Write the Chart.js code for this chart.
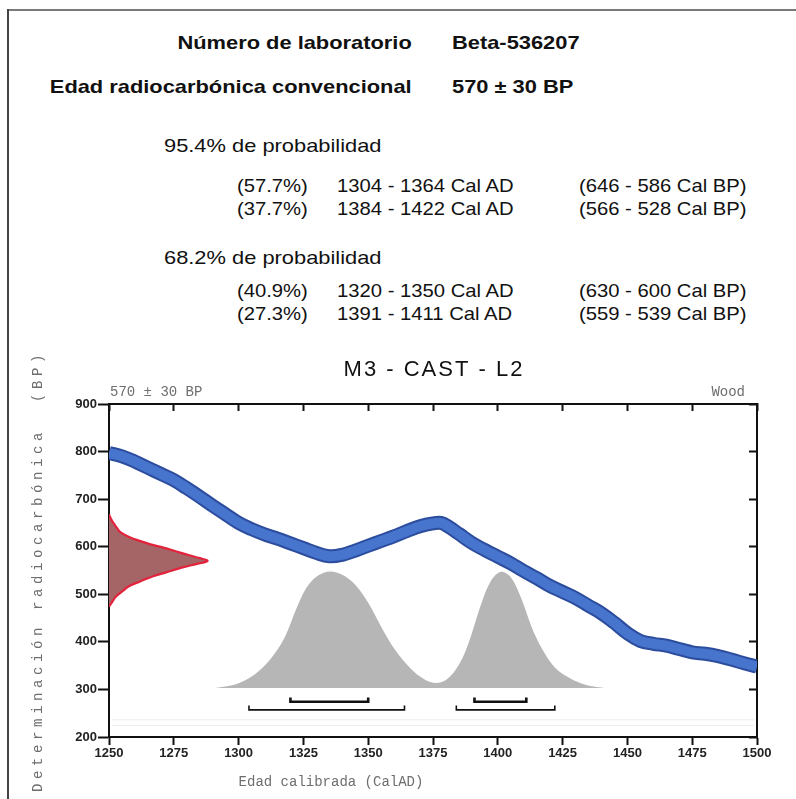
<!DOCTYPE html>
<html><head><meta charset="utf-8">
<script src="https://cdn.jsdelivr.net/npm/chart.js@4.4.0/dist/chart.umd.min.js"></script>
<style>
html,body{margin:0;padding:0;background:#fff;}
body{width:796px;height:799px;position:relative;overflow:hidden;font-family:"Liberation Sans",Arial,sans-serif;color:#111;}
#frameTop{position:absolute;left:8px;top:9px;width:788px;height:2px;background:#7a7a7a;}
#frameLeft{position:absolute;left:7px;top:9px;width:2px;height:790px;background:#444;}
.t{position:absolute;white-space:nowrap;font-size:19px;line-height:22px;transform:scaleX(1.15);transform-origin:left center;}
.n{transform:scaleX(1.065);}
.b{font-weight:bold;}
.r{transform-origin:right center;text-align:right;}
#wrap{position:absolute;left:0;top:0;width:796px;height:799px;}
</style></head>
<body>
<div id="frameTop"></div><div id="frameLeft"></div>
<div id="header"></div>
<div id="wrap"><canvas id="c" width="796" height="799"></canvas></div>
<script>
// ---------- data ----------
const labNumber = "Beta-536207";
const convAge = "570 ± 30 BP";
const sampleName = "M3 - CAST - L2";
const material = "Wood";

const prob95Label = "95.4% de probabilidad";
const pct95 = ["(57.7%)", "(37.7%)"];
const ranges95AD = [[1304, 1364], [1384, 1422]];
const ranges95BP = [[646, 586], [566, 528]];

const prob68Label = "68.2% de probabilidad";
const pct68 = ["(40.9%)", "(27.3%)"];
const ranges68AD = [[1320, 1350], [1391, 1411]];
const ranges68BP = [[630, 600], [559, 539]];

// calibration curve (cal AD -> radiocarbon BP)
const curveYears = [1250,1255,1260,1265,1270,1275,1280,1285,1290,1295,1300,1305,1310,1315,1320,1325,1330,1335,1340,1345,1350,1355,1360,1365,1370,1375,1378,1381,1385,1390,1395,1400,1405,1410,1415,1420,1425,1430,1435,1440,1445,1450,1455,1460,1465,1470,1475,1480,1485,1490,1495,1500];
const curveBP    = [797,790,779,766,753,740,723,705,686,668,650,637,626,617,607,597,587,580,583,592,602,612,622,633,643,649,650,642,627,608,593,579,565,549,534,518,505,492,476,460,440,418,402,396,392,385,378,375,370,363,355,348];

// calibrated probability distribution (cal AD -> plotted height in BP units)
const probYears = [1291,1296,1300,1305,1310,1314,1318,1322,1326,1330,1335,1340,1345,1350,1355,1360,1365,1370,1375,1380,1385,1389,1393,1397,1401,1405,1409,1413,1417,1422,1427,1432,1437,1441];
const probBP    = [303,307,313,327,350,376,412,466,512,537,548,541,520,482,432,386,352,327,314,320,352,402,470,525,547,536,492,432,386,346,326,313,306,303];
const probBase = 303;

// measured radiocarbon age distribution (BP -> density in years of x-axis)
const measBP      = [668,658,648,640,630,620,612,605,598,590,582,576,570,564,556,546,538,527,518,510,503,494,482,474];
const measDensity = [0,0.8,2,3,4.5,8,12,16,21,26,31,35,38,34,28,22,17,12,8,6,4.4,2.5,1,0];

const xTicks = {min:1250, max:1500, step:25};
const yTicks = {min:200, max:900, step:100};
const xTitle = "Edad calibrada (CalAD)";
const yTitle = "Determinación radiocarbónica  (BP)";

// ---------- header (HTML text) ----------
const H = document.getElementById('header');
function addText(txt, x, cy, cls, right){
  const d = document.createElement('div');
  d.className = 't ' + (cls||'') + (right ? ' r' : '');
  d.textContent = txt;
  d.style.top = (cy - 11) + 'px';
  if (right) { d.style.right = (796 - x) + 'px'; } else { d.style.left = x + 'px'; }
  H.appendChild(d);
}
addText("Número de laboratorio", 412, 43, 'b', true);
addText(labNumber, 452, 43, 'b');
addText("Edad radiocarbónica convencional", 412, 87, 'b', true);
addText(convAge, 452, 87, 'b');
addText(prob95Label, 164, 146);
const rowsY95 = [186, 209], rowsY68 = [291, 314];
ranges95AD.forEach((r,i)=>{
  addText(pct95[i], 237, rowsY95[i], 'n');
  addText(r[0] + " - " + r[1] + " Cal AD", 337, rowsY95[i], 'n');
  addText("(" + ranges95BP[i][0] + " - " + ranges95BP[i][1] + " Cal BP)", 579, rowsY95[i], 'n');
});
addText(prob68Label, 164, 258);
ranges68AD.forEach((r,i)=>{
  addText(pct68[i], 237, rowsY68[i], 'n');
  addText(r[0] + " - " + r[1] + " Cal AD", 337, rowsY68[i], 'n');
  addText("(" + ranges68BP[i][0] + " - " + ranges68BP[i][1] + " Cal BP)", 579, rowsY68[i], 'n');
});

// ---------- chart ----------
const pts = (xs, ys) => xs.map((x,i)=>({x:x, y:ys[i]}));
const datasets = [];

datasets.push({ // probability distribution
  data: pts(probYears, probBP), fill: {value: probBase},
  backgroundColor: '#b6b6b6', borderWidth: 0, pointRadius: 0, tension: 0.35, order: 6, clip: 0
});
datasets.push({ // faint frame lines
  data: [{x:1251,y:236},{x:1499,y:236}], borderColor:'#ededed', borderWidth:1, pointRadius:0, order:7
});
datasets.push({
  data: [{x:1251,y:224},{x:1499,y:224}], borderColor:'#ededed', borderWidth:1, pointRadius:0, order:7
});
datasets.push({ // calibration curve outline
  data: pts(curveYears, curveBP), borderColor: '#2c4d9e', borderWidth: 14, pointRadius: 0,
  tension: 0.4, fill: false, order: 4, clip: 0, borderCapStyle:'butt'
});
datasets.push({ // calibration curve body
  data: pts(curveYears, curveBP), borderColor: '#4774cc', borderWidth: 10, pointRadius: 0,
  tension: 0.4, fill: false, order: 3, clip: 0, borderCapStyle:'butt'
});
datasets.push({ // measured age distribution
  data: measBP.map((b,i)=>({x: xTicks.min + measDensity[i], y: b})),
  fill: 'shape', backgroundColor: '#a56466', borderColor: '#e3233c', borderWidth: 2.2,
  pointRadius: 0, tension: 0.4, order: 2, clip: 0
});
function bracket(r, level, w){
  datasets.push({
    data: [{x:r[0],y:level+9},{x:r[0],y:level},{x:r[1],y:level},{x:r[1],y:level+9}],
    borderColor:'#111', borderWidth:w, pointRadius:0, tension:0, fill:false, order:1
  });
}
ranges68AD.forEach(r=>bracket(r, 274, 2.6));
ranges95AD.forEach(r=>bracket(r, 257, 1.6));

const textPlugin = {
  id: 'texts',
  afterDraw(chart){
    const ctx = chart.ctx, a = chart.chartArea;
    ctx.save();
    ctx.fillStyle = '#111';
    ctx.font = '22px "Liberation Sans", Arial, sans-serif';
    ctx.letterSpacing = '2px';
    ctx.textAlign = 'center'; ctx.textBaseline = 'middle';
    ctx.fillText(sampleName, (a.left + a.right)/2 + 1, a.top - 34);
    ctx.letterSpacing = '0px';
    ctx.font = '14px "Liberation Mono", monospace';
    ctx.fillStyle = '#6e6e6e';
    ctx.textAlign = 'left';
    ctx.fillText(convAge, a.left + 1, a.top - 12);
    ctx.textAlign = 'right';
    ctx.fillText(material, a.right - 12, a.top - 12);
    ctx.textAlign = 'center';
    ctx.fillText(xTitle, 331, a.bottom + 45);
    ctx.translate(38, 571);
    ctx.rotate(-Math.PI/2);
    ctx.letterSpacing = '4.6px';
    ctx.fillText(yTitle, 0, 0);
    ctx.restore();
  }
};

const tickFont = {family: '"Liberation Sans", Arial, sans-serif', size: 13, weight: 'bold'};
const plain = v => String(v);
new Chart(document.getElementById('c'), {
  type: 'line',
  data: { datasets },
  options: {
    responsive: false, animation: false, events: [],
    layout: { padding: { left: 0, right: 39, top: 404, bottom: 0 } },
    plugins: { legend: {display:false}, tooltip: {enabled:false}, title: {display:false} },
    scales: {
      x: { type:'linear', position:'bottom', min:xTicks.min, max:xTicks.max,
        ticks: { stepSize:xTicks.step, color:'#222', font:tickFont, padding:1, maxRotation:0, autoSkip:false, callback: plain },
        grid: { drawOnChartArea:false, tickLength:8, color:'#111', tickWidth:2 },
        border: { color:'#111', width:2 },
        afterFit(s){ s.height = 62; } },
      x2: { type:'linear', position:'top', min:xTicks.min, max:xTicks.max,
        ticks: { stepSize:xTicks.step, display:false },
        grid: { drawOnChartArea:false, tickLength:-7, color:'#111', tickWidth:2 },
        border: { color:'#111', width:2 },
        afterFit(s){ s.height = 0; } },
      y: { type:'linear', position:'left', min:yTicks.min, max:yTicks.max, z:1,
        ticks: { stepSize:yTicks.step, color:'#222', font:tickFont, padding:1, callback: plain },
        grid: { drawOnChartArea:false, tickLength:11, color:'#111', tickWidth:2 },
        border: { color:'#111', width:2 },
        afterFit(s){ s.width = 109; } },
      y2: { type:'linear', position:'right', min:yTicks.min, max:yTicks.max,
        ticks: { stepSize:yTicks.step, display:false },
        grid: { drawOnChartArea:false, tickLength:-8, color:'#111', tickWidth:2 },
        border: { color:'#111', width:2 },
        afterFit(s){ s.width = 0; } }
    }
  },
  plugins: [textPlugin]
});
</script>
</body></html>
